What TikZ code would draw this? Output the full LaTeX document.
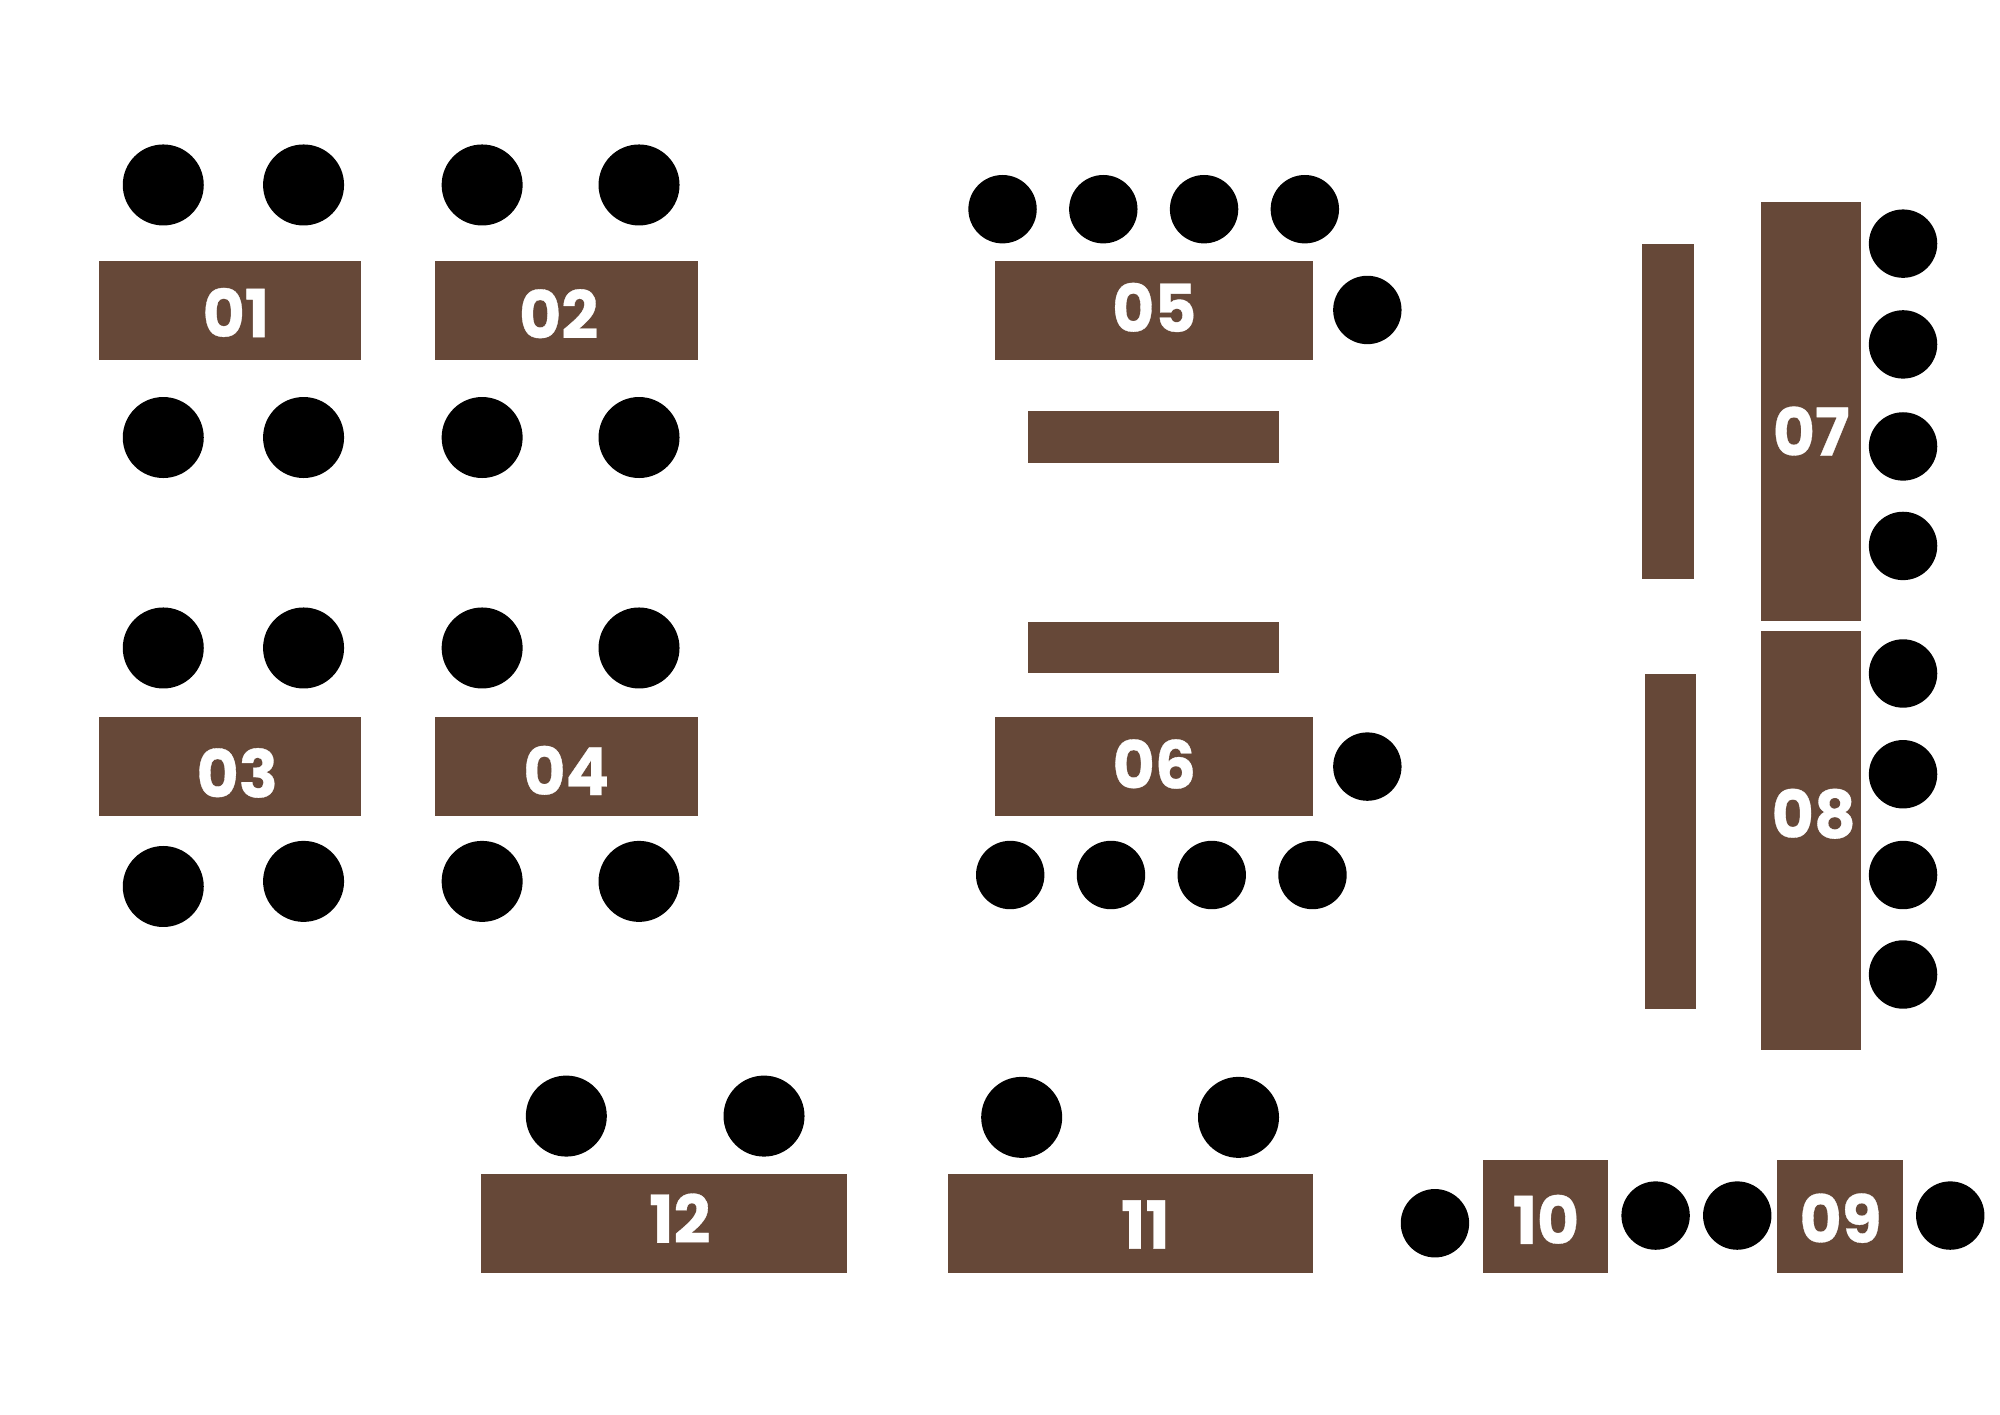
\documentclass[tikz,border=0pt]{standalone}
\usepackage{fontspec}
\usetikzlibrary{fit}
\newfontfamily\numfont[FakeStretch=0.98,BoldFeatures={FakeBold=0.5}]{Poppins}
\definecolor{woodbrown}{HTML}{664838}
\tikzset{
  tbl/.style={fill=woodbrown,inner sep=0pt,outer sep=0pt},
  seatbig/.style={circle,fill=black,inner sep=0pt,outer sep=0pt,minimum size=40.5pt},
  seatsmall/.style={circle,fill=black,inner sep=0pt,outer sep=0pt,minimum size=34.2pt},
  num/.style={text=white,inner sep=0pt,font=\numfont\bfseries\fontsize{33pt}{33pt}\selectfont}
}
\newcommand{\tablebox}[5]{\node[tbl,fit={(#2+0.3,#3+0.3)(#4,#5)}] (#1) {};}
\begin{document}
\begin{tikzpicture}[x=0.63775pt,y=-0.63775pt]
\useasboundingbox[fill=white] (0,0) rectangle (1568,1108.6);
\tablebox{t01}{77}{204}{283}{282}
\tablebox{t02}{341}{204}{547}{282}
\tablebox{t03}{77}{562}{283}{640}
\tablebox{t04}{341}{562}{547}{640}
\tablebox{t05}{780}{204}{1029}{282}
\tablebox{t06}{780}{562}{1029}{640}
\tablebox{b1}{806}{322}{1003}{363}
\tablebox{b2}{806}{487}{1003}{528}
\tablebox{b3}{1287}{191}{1328}{454}
\tablebox{b4}{1289}{528}{1330}{791}
\tablebox{t07}{1380}{158}{1459}{487}
\tablebox{t08}{1380}{494}{1459}{823}
\tablebox{t12}{377}{920}{664}{998}
\tablebox{t11}{743}{920}{1029}{998}
\tablebox{t10}{1162}{909}{1261}{998}
\tablebox{t09}{1393}{909}{1492}{998}
\foreach \n/\x/\y in {01/185/245,02/438/246,03/186/606,04/444/604,05/905/241,06/905/599,07/1420/338,08/1422/638,09/1443/955,10/1212/956,11/898/960,12/533/955}
  \node[num] (l\n) at (\x,\y) {\n};
\foreach \i/\x/\y in {1/128/145,2/238/145,3/378/145,4/501/145,5/128/343,6/238/343,7/378/343,8/501/343,9/128/508,10/238/508,11/378/508,12/501/508,13/128/695,14/238/691,15/378/691,16/501/691,17/444/875,18/599/875,19/801/876,20/971/876}
  \node[seatbig] (sb\i) at (\x,\y) {};
\foreach \i/\x/\y in {1/786/164,2/865/164,3/944/164,4/1023/164,5/1072/243,6/1492/191,7/1492/270,8/1492/350,9/1492/428,10/1492/528,11/1492/607,12/1492/686,13/1492/764,14/1072/601,15/792/686,16/871/686,17/950/686,18/1029/686,19/1125/959,20/1298/953,21/1362/953,22/1529/953}
  \node[seatsmall] (ss\i) at (\x,\y) {};
\end{tikzpicture}
\end{document}
